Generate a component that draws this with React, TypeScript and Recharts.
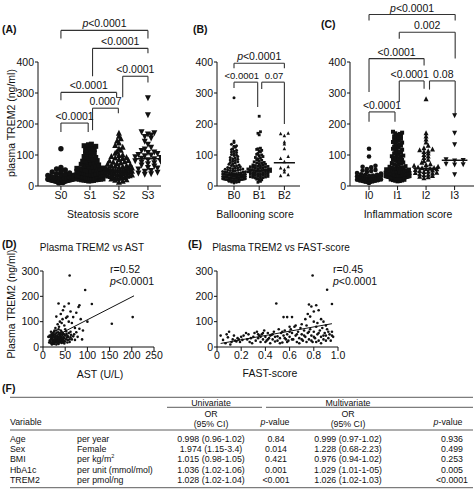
import React from 'react';
import { ScatterChart, Scatter, XAxis, YAxis, ReferenceLine } from 'recharts';

const FONT = '"Liberation Sans", Arial, Helvetica, sans-serif';
const INK = '#111';
const LINE = '#333';

// ---------- (A) steatosis score ----------
const steatosisCats = ['S0', 'S1', 'S2', 'S3'];
const s0 = [120, 60, 55, 52, 48, 45, 42, 40, 38, 36, 35, 34, 32, 31, 30, 29, 28, 27, 26, 25, 25, 24, 23, 22, 22, 21, 21, 20, 20, 19, 19, 18, 18, 17, 17, 16, 16, 15, 15, 14, 14, 13, 12, 12, 11, 10];
const s1 = [135, 133, 130, 128, 126, 124, 121, 118, 115, 112, 110, 107, 104, 101, 98, 95, 92, 90, 87, 85, 82, 80, 78, 76, 74, 72, 70, 68, 66, 65, 63, 62, 60, 58, 57, 56, 55, 54, 52, 51, 50, 49, 48, 47, 46, 45, 44, 43, 42, 41, 40, 40, 39, 38, 37, 36, 35, 35, 34, 33, 32, 32, 31, 30, 30, 29, 28, 28, 27, 26, 26, 25, 25, 24, 23, 23, 22, 22, 21, 20, 20, 19, 18, 18, 17, 16];
const s2 = [170, 160, 152, 145, 138, 130, 125, 120, 115, 110, 105, 100, 98, 95, 92, 90, 88, 85, 82, 80, 78, 76, 74, 72, 70, 68, 66, 65, 63, 62, 60, 58, 57, 56, 55, 54, 53, 52, 51, 50, 50, 49, 48, 47, 46, 45, 44, 43, 42, 41, 40, 39, 38, 37, 36, 35, 34, 33, 32, 31, 30, 29, 28, 27, 26, 25, 24, 22, 20, 18, 15, 12];
const s3 = [285, 230, 175, 172, 168, 165, 160, 155, 145, 135, 125, 120, 115, 110, 108, 105, 102, 100, 98, 95, 92, 90, 88, 85, 82, 80, 78, 75, 72, 68, 65, 60, 58, 55, 50, 48, 45, 42, 40, 38];
const steatosisMedians = [22, 35, 50, 88];

// ---------- (B) ballooning score ----------
const balloonCats = ['B0', 'B1', 'B2'];
const b0 = [285, 145, 140, 135, 130, 128, 125, 120, 118, 115, 112, 110, 108, 105, 102, 100, 98, 95, 92, 90, 88, 86, 84, 82, 80, 78, 76, 74, 72, 70, 68, 66, 65, 64, 62, 60, 59, 58, 57, 56, 55, 54, 53, 52, 51, 50, 49, 48, 47, 46, 45, 45, 44, 43, 42, 42, 41, 40, 40, 39, 38, 38, 37, 37, 36, 36, 35, 35, 34, 34, 33, 33, 32, 32, 31, 31, 30, 30, 29, 29, 28, 28, 27, 27, 26, 26, 25, 25, 24, 24, 23, 23, 22, 22, 21, 21, 20, 20, 19, 19, 18, 18, 17, 16, 15, 14, 13, 12, 10];
const b1 = [225, 175, 170, 165, 122, 120, 118, 115, 112, 110, 105, 102, 100, 98, 95, 92, 90, 88, 85, 83, 80, 78, 76, 75, 73, 72, 70, 68, 67, 66, 65, 64, 63, 62, 61, 60, 59, 58, 57, 56, 55, 55, 54, 53, 52, 52, 51, 50, 50, 49, 48, 48, 47, 46, 45, 45, 44, 43, 42, 41, 40, 40, 39, 38, 37, 36, 35, 34, 33, 32, 31, 30, 29, 28, 27, 26, 25, 24, 22, 20, 18, 15, 12];
const b2 = [170, 168, 162, 142, 135, 120, 95, 88, 78, 62, 58, 52, 45, 36, 33];
const balloonMedians = [37, 50, 75];

// ---------- (C) inflammation score ----------
const inflamCats = ['I0', 'I1', 'I2', 'I3'];
const i0 = [120, 95, 65, 62, 60, 55, 52, 50, 48, 45, 42, 40, 38, 36, 35, 34, 33, 32, 31, 30, 29, 28, 28, 27, 26, 25, 24, 23, 22, 21, 20, 19, 18, 17, 16, 15, 14, 13, 12, 10];
const i1 = [175, 172, 170, 168, 165, 162, 160, 157, 155, 152, 150, 147, 145, 142, 140, 137, 135, 132, 130, 127, 125, 122, 120, 117, 115, 112, 110, 107, 105, 102, 100, 98, 96, 94, 92, 90, 88, 86, 84, 82, 80, 78, 76, 74, 72, 70, 68, 66, 64, 62, 60, 59, 58, 57, 56, 55, 54, 53, 52, 51, 50, 49, 48, 47, 46, 45, 44, 43, 42, 41, 40, 40, 39, 39, 38, 38, 37, 37, 36, 36, 35, 35, 34, 34, 33, 33, 32, 32, 31, 31, 30, 30, 29, 29, 28, 28, 27, 27, 26, 26, 25, 25, 24, 24, 23, 23, 22, 22, 21, 20, 19, 18, 17, 16, 15];
const i2 = [280, 170, 160, 150, 140, 130, 122, 118, 115, 112, 110, 105, 100, 95, 90, 85, 80, 75, 70, 68, 65, 62, 60, 58, 57, 56, 55, 54, 52, 50, 48, 46, 45, 43, 42, 40, 38, 36, 35, 32, 30, 28, 25];
const i3 = [228, 172, 135, 86, 84, 82, 72, 70, 69, 38];
const inflamMedians = [28, 40, 57, 83];

// ---------- (D) TREM2 vs AST ----------
const astPoints: [number, number][] = [
  [60, 282], [95, 225], [35, 172], [58, 172], [48, 160], [82, 165], [80, 158], [110, 170], [62, 140], [40, 130],
  [45, 145], [75, 135], [85, 110], [55, 120], [52, 115], [68, 118], [100, 100], [155, 92], [202, 118], [90, 65],
  [72, 75], [65, 95], [58, 100], [30, 120], [38, 100], [42, 95], [78, 40], [88, 30], [70, 50], [62, 60],
  [55, 45], [50, 70], [48, 85], [44, 110], [36, 80], [33, 90], [28, 75], [25, 60], [62, 38], [68, 42],
  [75, 58], [82, 72], [58, 55], [52, 62], [45, 55], [40, 65], [35, 70], [30, 55], [27, 50], [24, 45],
  [22, 40], [20, 35], [18, 30], [15, 25], [16, 40], [19, 50], [21, 28], [23, 22], [25, 30], [26, 38],
  [28, 42], [29, 25], [30, 32], [31, 45], [32, 35], [33, 28], [34, 40], [35, 50], [36, 30], [37, 25],
  [38, 45], [39, 35], [40, 42], [41, 28], [42, 38], [43, 30], [44, 48], [45, 32], [46, 40], [47, 25],
  [48, 35], [50, 45], [52, 30], [54, 38], [56, 28], [60, 30], [14, 18], [17, 22], [20, 18], [22, 15],
  [24, 20], [26, 16], [28, 20], [30, 18], [32, 22], [34, 15], [36, 20], [38, 18], [40, 22], [42, 16],
  [44, 20], [46, 18], [48, 14], [50, 22], [35, 12], [30, 10], [25, 12], [20, 10], [18, 15], [12, 40],
  [15, 45], [18, 60], [22, 55], [26, 65], [30, 65], [34, 58], [38, 55], [42, 60], [48, 50], [53, 52],
  [57, 40], [63, 48], [65, 30], [72, 28], [25, 25], [27, 28], [29, 35], [31, 22], [33, 18], [35, 35],
  [37, 40], [39, 28], [41, 50], [43, 22], [45, 26], [60, 20], [55, 18], [19, 42], [21, 48], [23, 52],
];
const astFit = [{ x: 15, y: 31 }, { x: 205, y: 202 }];

// ---------- (E) TREM2 vs FAST-score ----------
const fastPoints: [number, number][] = [
  [0.79, 282], [0.91, 226], [0.49, 172], [0.95, 170], [0.76, 168], [0.78, 160], [0.82, 165], [0.80, 140], [0.84, 145], [0.75, 130],
  [0.77, 120], [0.86, 110], [0.73, 110], [0.88, 100], [0.80, 100], [0.55, 118], [0.58, 118], [0.62, 118], [0.70, 90], [0.65, 85],
  [0.60, 80], [0.83, 95], [0.90, 85], [0.92, 60], [0.95, 45], [0.03, 45], [0.05, 28], [0.08, 50], [0.10, 60], [0.09, 38],
  [0.12, 20], [0.13, 30], [0.14, 45], [0.15, 25], [0.16, 22], [0.17, 35], [0.18, 30], [0.19, 20], [0.20, 40], [0.21, 28],
  [0.22, 45], [0.24, 55], [0.11, 10], [0.07, 15], [0.30, 40], [0.31, 55], [0.32, 25], [0.33, 60], [0.34, 35], [0.35, 45],
  [0.36, 20], [0.37, 50], [0.38, 30], [0.39, 65], [0.40, 40], [0.41, 25], [0.42, 55], [0.43, 35], [0.44, 15], [0.45, 48],
  [0.46, 30], [0.47, 60], [0.48, 22], [0.50, 42], [0.51, 70], [0.52, 35], [0.53, 55], [0.54, 18], [0.55, 45], [0.56, 65],
  [0.57, 30], [0.58, 50], [0.59, 25], [0.60, 40], [0.61, 70], [0.62, 55], [0.63, 30], [0.64, 80], [0.65, 45], [0.66, 20],
  [0.67, 60], [0.68, 35], [0.69, 75], [0.70, 50], [0.71, 25], [0.72, 65], [0.73, 40], [0.74, 85], [0.75, 55], [0.76, 30],
  [0.77, 70], [0.78, 45], [0.79, 20], [0.80, 60], [0.81, 35], [0.82, 80], [0.83, 50], [0.84, 25], [0.85, 65], [0.86, 40],
  [0.87, 75], [0.88, 30], [0.89, 55], [0.90, 45], [0.91, 70], [0.92, 35], [0.93, 50], [0.94, 25], [0.95, 60], [0.96, 40],
  [0.28, 35], [0.27, 20], [0.26, 50], [0.25, 30], [0.29, 15], [0.34, 50], [0.36, 40], [0.38, 55], [0.40, 20], [0.42, 30],
  [0.44, 45], [0.46, 50], [0.48, 40], [0.50, 25], [0.52, 15], [0.54, 60], [0.56, 35], [0.58, 20], [0.60, 60], [0.62, 30],
  [0.66, 50], [0.68, 15], [0.70, 30], [0.72, 45], [0.74, 20], [0.76, 60], [0.78, 25], [0.80, 40], [0.82, 20], [0.84, 55],
  [0.86, 15], [0.88, 45], [0.90, 25],
];
const fastFit = [{ x: 0.03, y: 14 }, { x: 0.95, y: 92 }];

// ---------- (F) table ----------
const tableVars = ['Age', 'Sex', 'BMI', 'HbA1c', 'TREM2'];
const tableUnits = ['per year', 'Female', 'per kg/m', 'per unit (mmol/mol)', 'per pmol/ng'];
const uniOR = ['0.998 (0.96-1.02)', '1.974 (1.15-3.4)', '1.015 (0.98-1.05)', '1.036 (1.02-1.06)', '1.028 (1.02-1.04)'];
const uniP = ['0.84', '0.014', '0.421', '0.001', '<0.001'];
const multiOR = ['0.999 (0.97-1.02)', '1.228 (0.68-2.23)', '0.976 (0.94-1.02)', '1.029 (1.01-1-05)', '1.026 (1.02-1.03)'];
const multiP = ['0.936', '0.499', '0.253', '0.005', '<0.0001'];

type Bracket = { x1: number; x2: number; y: number; d1: number; d2: number; text: string; fs?: number; dx?: number };

const steatosisBrackets: Bracket[] = [
  { x1: 0, x2: 3, y: 502, d1: 476, d2: 476, text: 'p<0.0001' },
  { x1: 1.09, x2: 3, y: 444, d1: 354, d2: 428, text: '<0.0001' },
  { x1: 2.13, x2: 3, y: 354, d1: 286, d2: 334, text: '<0.0001' },
  { x1: 0, x2: 1.92, y: 302, d1: 277, d2: 286, text: '<0.0001' },
  { x1: 1.09, x2: 1.98, y: 251, d1: 180, d2: 235, text: '0.0007' },
  { x1: 0, x2: 0.94, y: 203, d1: 174, d2: 174, text: '<0.0001' },
];
const balloonBrackets: Bracket[] = [
  { x1: 0, x2: 2, y: 396, d1: 380, d2: 380, text: 'p<0.0001' },
  { x1: 0, x2: 0.94, y: 335, d1: 316, d2: 255, text: '<0.0001', fs: 9.5, dx: -4 },
  { x1: 1.1, x2: 2, y: 335, d1: 313, d2: 200, text: '0.07', fs: 9.5, dx: 1 },
];
const inflamBrackets: Bracket[] = [
  { x1: 0, x2: 3.02, y: 553, d1: 534, d2: 534, text: 'p<0.0001' },
  { x1: 1.06, x2: 3.02, y: 496, d1: 475, d2: 411, text: '0.002' },
  { x1: 0, x2: 1.93, y: 411, d1: 303, d2: 389, text: '<0.0001' },
  { x1: 1.06, x2: 1.93, y: 339, d1: 271, d2: 314, text: '<0.0001', dx: -2 },
  { x1: 2.12, x2: 3.02, y: 339, d1: 311, d2: 228, text: '0.08', dx: 1 },
  { x1: 0, x2: 0.91, y: 239, d1: 207, d2: 207, text: '<0.0001' },
];

// simple binned swarm: points with close values are spread sideways
function swarm(values: number[], idx: number, bin: number, step: number, half: number) {
  const bins = new Map<number, number[]>();
  [...values].sort((a, b) => a - b).forEach(v => {
    const k = Math.floor(v / bin);
    if (!bins.has(k)) bins.set(k, []);
    bins.get(k)!.push(v);
  });
  const out: { x: number; y: number }[] = [];
  bins.forEach(vs => {
    const n = vs.length;
    const s = n > 1 ? Math.min(step, (2 * half) / (n - 1)) : 0;
    const shift = n % 2 === 0 ? 0.5 : 0;
    vs.forEach((v, k) => {
      const slot = k === 0 ? 0 : (k % 2 ? 1 : -1) * Math.ceil(k / 2);
      out.push({ x: idx + (slot - shift) * s, y: v });
    });
  });
  return out;
}

const circle = (r: number) => (p: any) => <circle cx={p.cx} cy={p.cy} r={r} fill={INK} />;
const square = (s: number) => (p: any) => <rect x={p.cx - s / 2} y={p.cy - s / 2} width={s} height={s} fill={INK} />;
const triUp = (s: number) => (p: any) => (
  <polygon points={`${p.cx},${p.cy - s * 0.6} ${p.cx - s / 2},${p.cy + s * 0.4} ${p.cx + s / 2},${p.cy + s * 0.4}`} fill={INK} />
);
const triDown = (s: number) => (p: any) => (
  <polygon points={`${p.cx},${p.cy + s * 0.6} ${p.cx - s / 2},${p.cy - s * 0.4} ${p.cx + s / 2},${p.cy - s * 0.4}`} fill={INK} />
);

const bracketLabel = (b: Bracket) => (props: any) => {
  const vb = props.viewBox || {};
  const x = (vb.x ?? 0) + (vb.width ?? 0) / 2 + (b.dx ?? 0);
  const y = vb.y ?? 0;
  const italic = b.text.startsWith('p<');
  return (
    <text x={x} y={y - 3} textAnchor="middle" fontSize={b.fs ?? 10.5} fill={INK} fontFamily={FONT}>
      {italic ? (<><tspan fontStyle="italic">p</tspan><tspan>{b.text.slice(1)}</tspan></>) : b.text}
    </text>
  );
};

function bracketLines(b: Bracket, key: string) {
  const common = { stroke: LINE, strokeWidth: 1.1, ifOverflow: 'visible' as const };
  return [
    <ReferenceLine key={key + 'h'} segment={[{ x: b.x1, y: b.y }, { x: b.x2, y: b.y }]} {...common} label={bracketLabel(b)} />,
    <ReferenceLine key={key + 'l'} segment={[{ x: b.x1, y: b.y }, { x: b.x1, y: b.d1 }]} {...common} />,
    <ReferenceLine key={key + 'r'} segment={[{ x: b.x2, y: b.y }, { x: b.x2, y: b.d2 }]} {...common} />,
  ];
}

const tickStyle = { fill: INK, fontSize: 10.5, fontFamily: FONT };

interface DotProps {
  left: number;
  width: number;
  margin: { top: number; right: number; bottom: number; left: number };
  cats: string[];
  groups: number[][];
  medians: number[];
  brackets: Bracket[];
  xDomain: [number, number];
  shapes: ((p: any) => React.ReactElement)[];
  bin: number;
  steps: number[];
  half: number;
  medHalf: number;
}

function DotPanel({ left, width, margin, cats, groups, medians, brackets, xDomain, shapes, bin, steps, half, medHalf }: DotProps) {
  return (
    <div style={{ position: 'absolute', left, top: 0 }}>
      <ScatterChart width={width} height={225} margin={margin}>
        <XAxis
          type="number" dataKey="x" domain={xDomain} allowDataOverflow
          ticks={cats.map((_, i) => i)} tickFormatter={(v: number) => cats[v] ?? ''}
          height={30} tickSize={4} tickMargin={2} stroke={INK} tick={tickStyle}
        />
        <YAxis
          type="number" dataKey="y" domain={[0, 400]} allowDataOverflow
          ticks={[0, 100, 200, 300, 400]} width={38} tickSize={3} tickMargin={1}
          stroke={INK} tick={tickStyle}
        />
        {groups.map((g, i) => (
          <Scatter key={cats[i]} data={swarm(g, i, bin, steps[i], half)} shape={shapes[i]} isAnimationActive={false} />
        ))}
        {medians.map((m, i) => (
          <ReferenceLine key={'med' + i} segment={[{ x: i - medHalf, y: m }, { x: i + medHalf, y: m }]} stroke={INK} strokeWidth={1.5} ifOverflow="visible" />
        ))}
        {brackets.flatMap((b, i) => bracketLines(b, 'br' + i))}
      </ScatterChart>
    </div>
  );
}

interface CorrProps {
  left: number;
  width: number;
  margin: { top: number; right: number; bottom: number; left: number };
  points: [number, number][];
  fit: { x: number; y: number }[];
  xDomain: [number, number];
  xTicks: number[];
  xFmt: (v: number) => string;
}

function CorrPanel({ left, width, margin, points, fit, xDomain, xTicks, xFmt }: CorrProps) {
  const data = points.map(([x, y]) => ({ x, y }));
  return (
    <div style={{ position: 'absolute', left, top: 230 }}>
      <ScatterChart width={width} height={150} margin={margin}>
        <XAxis
          type="number" dataKey="x" domain={xDomain} allowDataOverflow ticks={xTicks} tickFormatter={xFmt}
          height={28} tickSize={4} tickMargin={1} stroke={INK} tick={tickStyle}
        />
        <YAxis
          type="number" dataKey="y" domain={[0, 300]} allowDataOverflow ticks={[0, 100, 200, 300]}
          width={43} tickSize={3} tickMargin={1} stroke={INK} tick={tickStyle}
        />
        <Scatter data={data} shape={circle(1.3)} isAnimationActive={false} />
        <ReferenceLine segment={fit} stroke={INK} strokeWidth={1} ifOverflow="visible" />
      </ScatterChart>
    </div>
  );
}

const T = (props: any) => <text fontFamily={FONT} fill={INK} dominantBaseline="central" {...props} />;

function Overlay() {
  const rowsY = [438.5, 449, 459.4, 469.8, 480.2];
  const tf = 8.8;
  return (
    <svg width={476} height={500} style={{ position: 'absolute', left: 0, top: 0, pointerEvents: 'none' }}>
      <T x={2} y={29} fontSize={10.5} fontWeight="bold">(A)</T>
      <T x={193} y={29} fontSize={10.5} fontWeight="bold">(B)</T>
      <T x={321} y={24} fontSize={10.5} fontWeight="bold">(C)</T>
      <T x={2} y={244} fontSize={10.5} fontWeight="bold">(D)</T>
      <T x={188} y={244} fontSize={10.5} fontWeight="bold">(E)</T>
      <T x={2} y={388} fontSize={10.5} fontWeight="bold">(F)</T>

      <T x={0} y={0} fontSize={10.5} textAnchor="middle" transform="translate(11,123) rotate(-90)">plasma TREM2 (ng/ml)</T>
      <T x={103} y={214} fontSize={10.5} textAnchor="middle">Steatosis score</T>
      <T x={255} y={214} fontSize={10.5} textAnchor="middle">Ballooning score</T>
      <T x={408} y={214} fontSize={10.5} textAnchor="middle">Inflammation score</T>

      <T x={92} y={247} fontSize={10} textAnchor="middle">Plasma TREM2 vs AST</T>
      <T x={281} y={247} fontSize={10} textAnchor="middle">Plasma TREM2 vs FAST-score</T>
      <T x={0} y={0} fontSize={10.5} textAnchor="middle" transform="translate(11,304) rotate(-90)">Plasma TREM2 (ng/ml)</T>
      <T x={110} y={269} fontSize={10.5}>r=0.52</T>
      <T x={110} y={281} fontSize={10.5}><tspan fontStyle="italic">p</tspan>&lt;0.0001</T>
      <T x={333} y={269} fontSize={10.5}>r=0.45</T>
      <T x={333} y={281} fontSize={10.5}><tspan fontStyle="italic">p</tspan>&lt;0.0001</T>
      <T x={100} y={374} fontSize={10.5} textAnchor="middle">AST (U/L)</T>
      <T x={270} y={373} fontSize={10.5} textAnchor="middle">FAST-score</T>

      {/* table */}
      <line x1={10} x2={473} y1={397.3} y2={397.3} stroke={LINE} strokeWidth={0.8} />
      <line x1={167} x2={262} y1={407.3} y2={407.3} stroke={LINE} strokeWidth={0.8} />
      <line x1={266} x2={473} y1={407.3} y2={407.3} stroke={LINE} strokeWidth={0.8} />
      <line x1={10} x2={473} y1={430} y2={430} stroke={LINE} strokeWidth={0.8} />
      <line x1={10} x2={473} y1={487.7} y2={487.7} stroke={LINE} strokeWidth={0.8} />
      <T x={211} y={402.5} fontSize={tf} textAnchor="middle">Univariate</T>
      <T x={348} y={402.5} fontSize={tf} textAnchor="middle">Multivariate</T>
      <T x={10} y={421.5} fontSize={tf}>Variable</T>
      <T x={211} y={414} fontSize={tf} textAnchor="middle">OR</T>
      <T x={211} y={424} fontSize={tf} textAnchor="middle">(95% CI)</T>
      <T x={275} y={421.5} fontSize={tf} textAnchor="middle"><tspan fontStyle="italic">p</tspan>-value</T>
      <T x={348} y={414} fontSize={tf} textAnchor="middle">OR</T>
      <T x={348} y={424} fontSize={tf} textAnchor="middle">(95% CI)</T>
      <T x={448} y={421.5} fontSize={tf} textAnchor="middle"><tspan fontStyle="italic">p</tspan>-value</T>
      {tableVars.map((v, i) => (
        <g key={v}>
          <T x={10} y={rowsY[i]} fontSize={tf}>{v}</T>
          <T x={77} y={rowsY[i]} fontSize={tf}>
            {tableUnits[i]}
            {v === 'BMI' ? <tspan dy={-3} fontSize={5.5}>2</tspan> : null}
          </T>
          <T x={211} y={rowsY[i]} fontSize={tf} textAnchor="middle">{uniOR[i]}</T>
          <T x={276} y={rowsY[i]} fontSize={tf} textAnchor="middle">{uniP[i]}</T>
          <T x={348} y={rowsY[i]} fontSize={tf} textAnchor="middle">{multiOR[i]}</T>
          <T x={452} y={rowsY[i]} fontSize={tf} textAnchor="middle">{multiP[i]}</T>
        </g>
      ))}
    </svg>
  );
}

export default function App() {
  return (
    <div style={{ position: 'absolute', left: 0, top: 0, width: 476, height: 500, background: '#fff', overflow: 'hidden', fontFamily: FONT }}>
      <DotPanel
        left={0} width={165} margin={{ top: 62, right: 4, bottom: 9, left: 0 }}
        cats={steatosisCats} groups={[s0, s1, s2, s3]} medians={steatosisMedians} brackets={steatosisBrackets}
        xDomain={[-0.79, 3.45]} shapes={[circle(2.7), square(5), triUp(6), triDown(6)]}
        bin={12} steps={[0.15, 0.1, 0.13, 0.22]} half={0.45} medHalf={0.45}
      />
      <DotPanel
        left={160} width={145} margin={{ top: 62, right: 5, bottom: 9, left: 19 }}
        cats={balloonCats} groups={[b0, b1, b2]} medians={balloonMedians} brackets={balloonBrackets}
        xDomain={[-0.675, 2.62]} shapes={[circle(1.5), square(2.8), triUp(3.5)]}
        bin={8} steps={[0.1, 0.1, 0.3]} half={0.45} medHalf={0.42}
      />
      <DotPanel
        left={310} width={166} margin={{ top: 62, right: 2, bottom: 9, left: 2 }}
        cats={inflamCats} groups={[i0, i1, i2, i3]} medians={inflamMedians} brackets={inflamBrackets}
        xDomain={[-0.667, 3.68]} shapes={[circle(2.3), square(4), triUp(5), triDown(5)]}
        bin={11} steps={[0.15, 0.08, 0.15, 0.3]} half={0.42} medHalf={0.45}
      />
      <CorrPanel
        left={0} width={165} margin={{ top: 41, right: 11, bottom: 5, left: 0 }}
        points={astPoints} fit={astFit} xDomain={[0, 250]} xTicks={[0, 50, 100, 150, 200, 250]}
        xFmt={(v: number) => String(v)}
      />
      <CorrPanel
        left={174} width={176} margin={{ top: 41, right: 12, bottom: 5, left: 0 }}
        points={fastPoints} fit={fastFit} xDomain={[0, 1]} xTicks={[0, 0.2, 0.4, 0.6, 0.8, 1]}
        xFmt={(v: number) => (v === 0 ? '0' : v.toFixed(1))}
      />
      <Overlay />
    </div>
  );
}
